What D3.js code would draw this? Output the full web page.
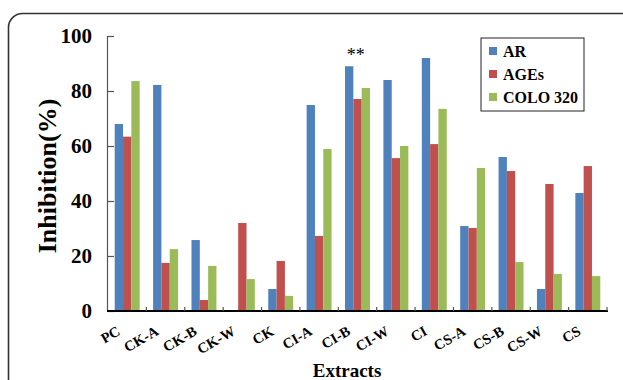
<!DOCTYPE html>
<html><head><meta charset="utf-8">
<script src="https://cdn.jsdelivr.net/npm/d3@7"></script>
<style>body{margin:0;background:#fff}svg{display:block}</style>
</head><body><svg id="c" width="623" height="380"></svg>
<script>
const categories = ["PC","CK-A","CK-B","CK-W","CK","CI-A","CI-B","CI-W","CI","CS-A","CS-B","CS-W","CS"];
const seriesNames = ["AR","AGEs","COLO 320"];
const AR   = [68, 82.2, 25.8, 0, 8, 74.9, 89, 84, 92, 30.9, 56, 8, 42.9];
const AGEs = [63.4, 17.5, 4, 32, 18.2, 27.3, 77.1, 55.6, 60.7, 30.2, 50.9, 46.2, 52.7];
const COLO = [83.6, 22.5, 16.4, 11.6, 5.5, 58.9, 81.1, 60, 73.5, 52, 17.8, 13.5, 12.7];
const yTicks = [0, 20, 40, 60, 80, 100];
const colors = ["#4F81BD","#C0504D","#9BBB59"];
const seriesVals = [AR, AGEs, COLO];

const svg = d3.select("#c");
const font = "'Liberation Serif','Times New Roman',serif";
const L = 108, R = 607, T = 36, B = 311;

// frame
svg.append("rect").attr("x",8.5).attr("y",13.5).attr("width",700).attr("height",500)
  .attr("rx",14).attr("fill","none").attr("stroke","#333").attr("stroke-width",1.6);

const x = d3.scaleBand().domain(categories).range([L,R]).padding(0);
const x1 = d3.scaleBand().domain(seriesNames)
  .range([x.bandwidth()*0.175, x.bandwidth()*0.825]).padding(0);
const y = d3.scaleLinear().domain([0,100]).range([B,T]);

// bars
const g = svg.append("g");
categories.forEach((c,i)=>{
  seriesNames.forEach((s,j)=>{
    const v = seriesVals[j][i];
    if (v<=0) return;
    g.append("rect").attr("x", x(c)+x1(s)).attr("width", x1.bandwidth())
      .attr("y", y(v)).attr("height", B - y(v)).attr("fill", colors[j]);
  });
});

// y axis
const ya = svg.append("g").attr("transform",`translate(${L},0)`)
  .call(d3.axisLeft(y).tickValues(yTicks).tickSize(-6).tickPadding(16));
ya.select(".domain").attr("stroke","#555").attr("stroke-width",1.2).attr("d",`M-0.5,${T}V${B}`);
ya.selectAll(".tick line").attr("stroke","#555").attr("stroke-width",1.2);
ya.selectAll(".tick text").attr("font-family",font).attr("font-weight","bold").attr("font-size",21).attr("fill","#000");

// x axis
const xa = svg.append("g").attr("transform",`translate(0,${B})`);
xa.append("line").attr("x1",L-1).attr("x2",R+1).attr("y1",0).attr("y2",0).attr("stroke","#000").attr("stroke-width",2);
const bounds = categories.map(c=>x(c)).concat([R]).slice(1);
xa.selectAll("line.tk").data(bounds).enter().append("line").attr("class","tk")
  .attr("x1",d=>d).attr("x2",d=>d).attr("y1",0).attr("y2",-4).attr("stroke","#555").attr("stroke-width",1.2);
xa.selectAll("text").data(categories).enter().append("text")
  .attr("transform",d=>`translate(${x(d)+x.bandwidth()/2-6},${23}) rotate(-30)`)
  .attr("text-anchor","end").attr("font-family",font).attr("font-weight","bold").attr("font-size",14.5)
  .text(d=>d);

// axis titles
svg.append("text").attr("x",347).attr("y",377).attr("text-anchor","middle")
  .attr("font-family",font).attr("font-weight","bold").attr("font-size",19).text("Extracts");
svg.append("text").attr("transform",`translate(56,${176}) rotate(-90)`).attr("text-anchor","middle")
  .attr("font-family",font).attr("font-weight","bold").attr("font-size",26).text("Inhibition(%)");

// significance
svg.append("text").attr("x",x("CI-B")+x1("AR")+x1.bandwidth()*1.3).attr("y",y(89)-5).attr("text-anchor","middle")
  .attr("font-family",font).attr("font-size",18).text("**");

// legend
const lg = svg.append("g");
lg.append("rect").attr("x",481).attr("y",38).attr("width",103).attr("height",73)
  .attr("fill","#fff").attr("stroke","#222").attr("stroke-width",1);
seriesNames.forEach((s,j)=>{
  const cy = 51 + j*23;
  lg.append("rect").attr("x",489).attr("y",cy-4).attr("width",8).attr("height",8).attr("fill",colors[j]);
  lg.append("text").attr("x",503).attr("y",cy+5.5).attr("font-family",font).attr("font-weight","bold")
    .attr("font-size",16).text(s);
});
</script></body></html>
